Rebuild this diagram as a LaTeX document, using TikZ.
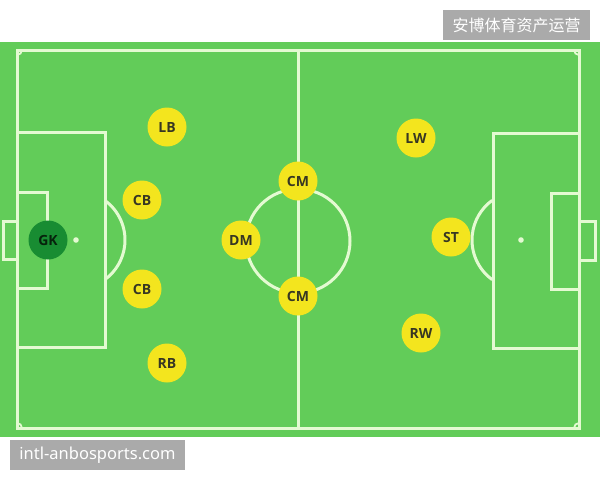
\documentclass[tikz,border=0pt]{standalone}
\usepackage{fontspec}
\setsansfont{Open Sans}
\newfontfamily\cjk{Noto Sans CJK SC}
\newfontfamily\sitefont{Noto Sans}
\usepackage{tikz}
\usetikzlibrary{positioning}
\definecolor{pitch}{RGB}{98,204,89}
\definecolor{chalk}{RGB}{228,250,210}
\definecolor{shirt}{RGB}{243,229,30}
\definecolor{keeper}{RGB}{24,140,50}
\definecolor{stampgray}{RGB}{170,170,170}
\definecolor{ink}{RGB}{55,55,35}

\begin{document}
\begin{tikzpicture}
    [ x = 1pt, y = -1pt
    , line/.style =
      { draw=chalk, line width=3pt }
    , spot/.style =
      { fill=chalk }
    , player/.style =
      { circle, fill=shirt, minimum size=39pt, inner sep=0pt
      , text=ink, font=\sffamily\bfseries\fontsize{14}{14}\selectfont }
    , goalie/.style =
      { player, fill=keeper, text=black!75!keeper }
    , stamp/.style =
      { fill=stampgray, text=white, inner sep=0pt, minimum height=30pt }
    ]
    \useasboundingbox (0,0) rectangle (600,480);
    \fill [pitch] (0,42) rectangle (600,437);

    % pitch markings
    \draw [line] (17,50) rectangle (579,428);
    \draw [line] (298,50) -- (298,428);
    \draw [line] (298,241) circle [radius=52];
    \draw [line] (17,132) rectangle (105,347);
    \draw [line] (17,192) rectangle (47,288);
    \draw [line] (17,221) -- (3,221) -- (3,259) -- (17,259);
    \draw [line] (493,133) rectangle (579,348);
    \draw [line] (551,193) rectangle (579,289);
    \draw [line] (579,221) -- (595,221) -- (595,260) -- (579,260);
    \draw [line] (76,240) ++(-54:49) arc [start angle=-54, end angle=54, radius=49];
    \draw [line] (521,240) ++(126:49) arc [start angle=126, end angle=234, radius=49];
    \fill [spot] (76,240) circle [radius=2.8];
    \fill [spot] (521,240) circle [radius=2.8];
    \draw [line, line width=1.8pt] (17,55) arc [start angle=90, end angle=0, radius=5];
    \draw [line, line width=1.8pt] (574,50) arc [start angle=180, end angle=90, radius=5];
    \draw [line, line width=1.8pt] (22,428) arc [start angle=0, end angle=-90, radius=5];
    \draw [line, line width=1.8pt] (579,423) arc [start angle=270, end angle=180, radius=5];

    % players
    \node [goalie] (gk) at (48,240) {GK};
    \node [player] (lb) at (167,127) {LB};
    \node [player] (lcb) at (142,200) {CB};
    \node [player] (rcb) at (142,289) {CB};
    \node [player] (rb) at (167,363) {RB};
    \node [player] (dm) at (241,240) {DM};
    \node [player] (lcm) at (298,181) {CM};
    \node [player] (rcm) at (298,296) {CM};
    \node [player] (lw) at (416,138) {LW};
    \node [player] (st) at (451,237) {ST};
    \node [player] (rw) at (421,333) {RW};

    % watermarks
    \node [stamp, minimum width=147pt, font=\cjk\fontsize{16}{16}\selectfont]
      (brand) at (516.5,25) {安博体育资产运营};
    \node [stamp, minimum width=175pt, font=\sitefont\fontsize{16.5}{16.5}\selectfont]
      (site) at (97.5,455) {intl-anbosports.com};
\end{tikzpicture}
\end{document}
